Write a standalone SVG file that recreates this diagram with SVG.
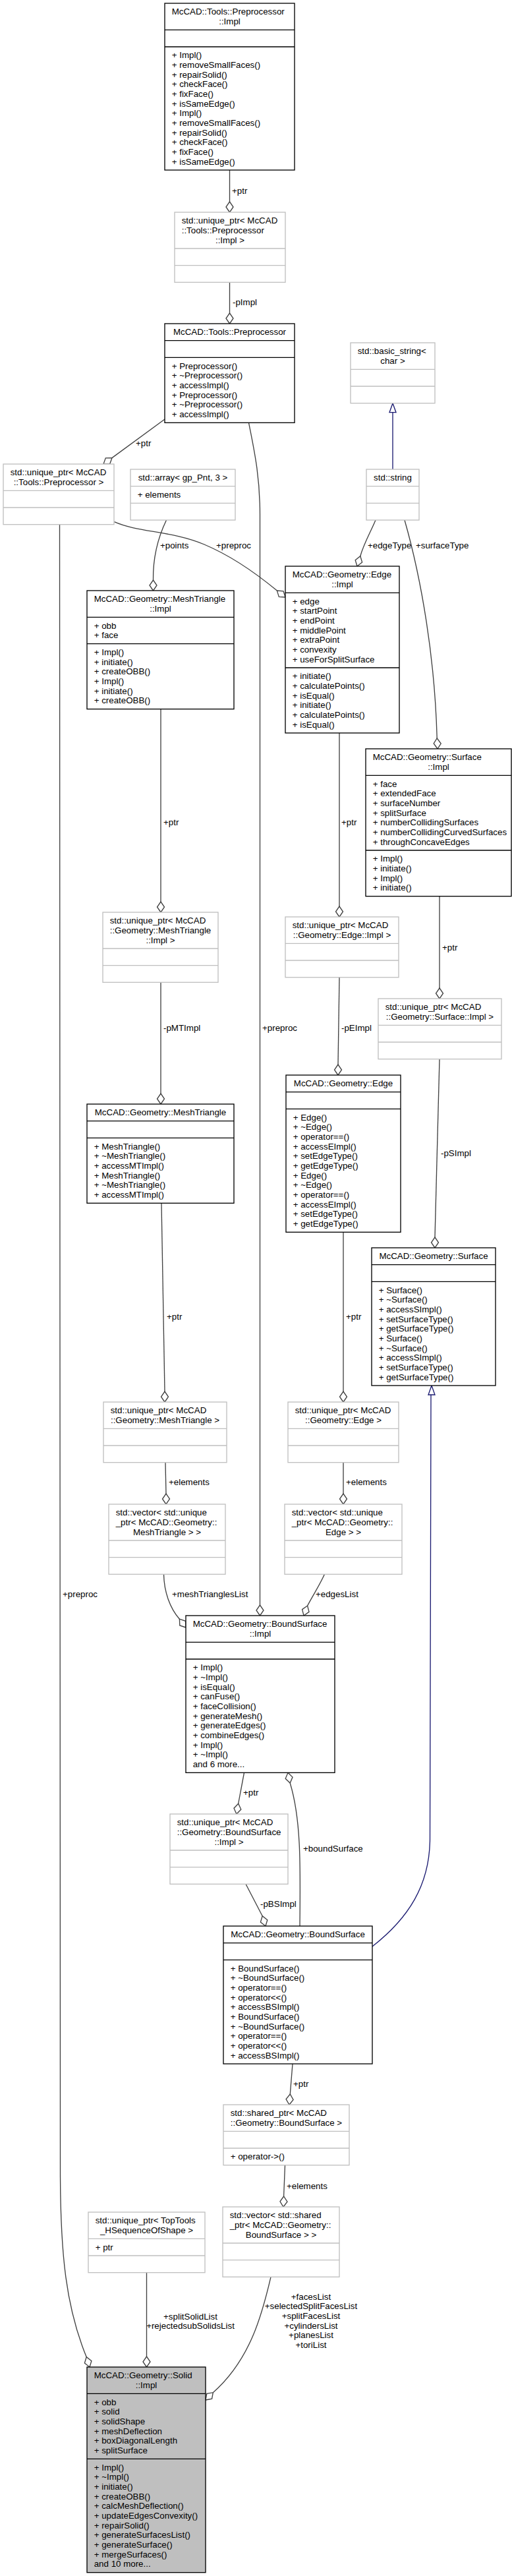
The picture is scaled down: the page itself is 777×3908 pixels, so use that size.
<svg xmlns="http://www.w3.org/2000/svg" width="777" height="3908" viewBox="0 0 777 3908">
<style>
text{font-family:"Liberation Sans",Arial,Helvetica,sans-serif;font-size:13.33px;fill:#000}
.m{text-anchor:middle}
.b{fill:#fff;stroke:#000;stroke-width:1.33}
.g{fill:#fff;stroke:#bfbfbf;stroke-width:1.33}
.main{fill:#bfbfbf;stroke:#000;stroke-width:1.33}
.sb{stroke:#000;stroke-width:1.33}
.sg{stroke:#bfbfbf;stroke-width:1.33}
.e{fill:none;stroke:#404040;stroke-width:1.33}
.d{fill:#fff;stroke:#404040;stroke-width:1.33}
.i{fill:none;stroke:#191970;stroke-width:1.33}
.it{fill:#fff;stroke:#191970;stroke-width:1.33}
</style>
<rect width="777" height="3908" fill="#fff"/>

<g id="connectors">
<!-- E1 -->
<path class="e" d="M348.5,258 L348.5,306"/>
<polygon class="d" points="348.5,322 343,314 348.5,306 354,314"/>
<text x="352" y="293.5">+ptr</text>
<!-- E2 -->
<path class="e" d="M348.5,428.3 L348.5,475"/>
<polygon class="d" points="348.5,491 343,483 348.5,475 354,483"/>
<text x="353" y="462.5">-pImpl</text>
<!-- E3 -->
<path class="e" d="M250,636 L170,694.6"/>
<polygon class="d" points="157,704 166.7,703.8 170,694.6 160.3,694.8"/>
<text x="206" y="676.5">+ptr</text>
<!-- E4 -->
<path class="e" d="M173.5,791.7 C210,808 260,805 310,826 C355,845 395,875 420.4,896.1"/>
<polygon class="d" points="433,906 423.3,905.4 420.4,896.1 430.1,896.8"/>
<text x="328" y="831.5">+preproc</text>
<!-- E5 -->
<path class="e" d="M252.5,789 C240,815 232,845 232.5,880"/>
<polygon class="d" points="232.5,896 227,888 232.5,880 238,888"/>
<text x="243" y="831.5">+points</text>
<!-- E6 -->
<path class="e" d="M570,789 C562,808 552,825 546.8,843.7"/>
<polygon class="d" points="542,859 549.6,853 546.8,843.7 539.2,849.7"/>
<text x="558" y="831.5">+edgeType</text>
<!-- E7 -->
<path class="e" d="M614,789 C640,880 660,1000 663.2,1120"/>
<polygon class="d" points="664,1136 658.2,1128 663.2,1120 669.2,1128"/>
<text x="631" y="831.5">+surfaceType</text>
<!-- E8 inheritance -->
<path class="i" d="M596,712 L596,625.7"/>
<polygon class="it" points="596,611.7 591,625.7 601,625.7"/>
<!-- E9 -->
<path class="e" d="M244,1075.7 L244,1368"/>
<polygon class="d" points="244,1384 238.5,1376 244,1368 249.5,1376"/>
<text x="248" y="1251.5">+ptr</text>
<!-- E10 -->
<path class="e" d="M515,1112 L515,1375"/>
<polygon class="d" points="515,1391 509.5,1383 515,1375 520.5,1383"/>
<text x="518" y="1251.5">+ptr</text>
<!-- E11 -->
<path class="e" d="M667,1359.7 L667,1499"/>
<polygon class="d" points="667,1515 661.5,1507 667,1499 672.5,1507"/>
<text x="671" y="1441.5">+ptr</text>
<!-- E12 -->
<path class="e" d="M244,1490.3 L244,1659"/>
<polygon class="d" points="244,1675 238.5,1667 244,1659 249.5,1667"/>
<text x="248" y="1563.5">-pMTImpl</text>
<!-- E13 -->
<path class="e" d="M515,1482.7 L513,1615"/>
<polygon class="d" points="513,1631 507.5,1623 513,1615 518.5,1623"/>
<text x="518" y="1563.5">-pEImpl</text>
<!-- E14 -->
<path class="e" d="M667,1606.7 L660,1877"/>
<polygon class="d" points="660,1893 654.5,1885 660,1877 665.5,1885"/>
<text x="669" y="1753.5">-pSImpl</text>
<!-- E15 -->
<path class="e" d="M245,1825.3 L250,2111"/>
<polygon class="d" points="250,2127 244.5,2119 250,2111 255.5,2119"/>
<text x="253" y="2001.5">+ptr</text>
<!-- E16 -->
<path class="e" d="M521,1869.3 L521,2111"/>
<polygon class="d" points="521,2127 515.5,2119 521,2111 526.5,2119"/>
<text x="525" y="2001.5">+ptr</text>
<!-- E17 inheritance -->
<path class="i" d="M654,2116 L652.5,2790 C652,2860 620,2910 565,2953"/>
<polygon class="it" points="655,2102 650,2116 660,2116"/>
<!-- E18 -->
<path class="e" d="M251,2218.7 L252,2266"/>
<polygon class="d" points="252,2282 246.5,2274 252,2266 257.5,2274"/>
<text x="256" y="2252.5">+elements</text>
<!-- E19 -->
<path class="e" d="M521,2218.7 L521,2266"/>
<polygon class="d" points="521,2282 515.5,2274 521,2266 526.5,2274"/>
<text x="525" y="2252.5">+elements</text>
<!-- E20 -->
<path class="e" d="M248.5,2388.3 C249,2415 258,2440 272.4,2456.2"/>
<polygon class="d" points="282,2469 272.8,2465.9 272.4,2456.2 281.6,2459.3"/>
<text x="261" y="2422.5">+meshTrianglesList</text>
<!-- E21 -->
<path class="e" d="M377.5,641.3 C385,680 394.5,720 394.5,780 L394.5,2435"/>
<polygon class="d" points="394.5,2451 389,2443 394.5,2435 400,2443"/>
<text x="398" y="1563.5">+preproc</text>
<!-- E22 -->
<path class="e" d="M492.5,2388.3 C485,2405 475,2420 466.6,2436"/>
<polygon class="d" points="461,2451 469,2445.4 466.6,2436 458.6,2441.6"/>
<text x="479" y="2422.5">+edgesList</text>
<!-- E23 -->
<path class="e" d="M370.5,2689.3 L361.7,2736.2"/>
<polygon class="d" points="359,2752 365.8,2745 361.7,2736.2 355,2743.2"/>
<text x="369" y="2723.5">+ptr</text>
<!-- E24 -->
<path class="e" d="M373,2858.3 L398.2,2906.7"/>
<polygon class="d" points="403,2922 395.4,2916 398.2,2906.7 405.8,2912.7"/>
<text x="395" y="2892.5">-pBSImpl</text>
<!-- E25 -->
<path class="e" d="M455,2922 C456,2830 457,2760 440.2,2705"/>
<polygon class="d" points="437,2689.3 444,2696.1 440.2,2705 433.2,2698.3"/>
<text x="460" y="2808.5">+boundSurface</text>
<!-- E26 -->
<path class="e" d="M444,3131 L440.3,3177"/>
<polygon class="d" points="439,3193 445.1,3185.4 440.3,3177 434.1,3184.6"/>
<text x="445" y="3165.5">+ptr</text>
<!-- E27 -->
<path class="e" d="M432.5,3284.7 L430.6,3332"/>
<polygon class="d" points="430,3348 436,3340.2 430.6,3332 425,3339.8"/>
<text x="435" y="3320.5">+elements</text>
<!-- E28 -->
<path class="e" d="M222.5,3447.7 L222.5,3575"/>
<polygon class="d" points="222.5,3591 217,3583 222.5,3575 228,3583"/>
<text class="m" x="289" y="3518.5">+splitSolidList</text>
<text class="m" x="289" y="3533.2">+rejectedsubSolidsList</text>
<!-- E29 -->
<path class="e" d="M411,3454.3 C398,3510 380,3580 323.3,3629.7"/>
<polygon class="d" points="312,3641 321.6,3639.2 323.3,3629.7 313.8,3631.4"/>
<text class="m" x="472" y="3488.5">+facesList</text>
<text class="m" x="472" y="3503.2">+selectedSplitFacesList</text>
<text class="m" x="472" y="3517.8">+splitFacesList</text>
<text class="m" x="472" y="3532.5">+cylindersList</text>
<text class="m" x="472" y="3547.2">+planesList</text>
<text class="m" x="472" y="3561.8">+toriList</text>
<!-- E30 -->
<path class="e" d="M90.5,795.7 L91.5,3300 C92,3420 100,3500 131.2,3575.7"/>
<polygon class="d" points="136,3591 138.9,3581.7 131.2,3575.7 128.4,3585"/>
<text x="95" y="2422.5">+preproc</text>
</g>

<g id="ppimpl">
<rect class="b" x="250" y="5" width="197" height="253"/>
<line class="sb" x1="250" y1="45.3" x2="447" y2="45.3"/>
<line class="sb" x1="250" y1="71" x2="447" y2="71"/>
<text x="260.7" y="22.3">McCAD::Tools::Preprocessor</text>
<text class="m" x="348.5" y="37">::Impl</text>
<text x="260.7" y="88.3">+ Impl()<tspan x="260.7" dy="14.67">+ removeSmallFaces()</tspan><tspan x="260.7" dy="14.67">+ repairSolid()</tspan><tspan x="260.7" dy="14.67">+ checkFace()</tspan><tspan x="260.7" dy="14.67">+ fixFace()</tspan><tspan x="260.7" dy="14.67">+ isSameEdge()</tspan><tspan x="260.7" dy="14.67">+ Impl()</tspan><tspan x="260.7" dy="14.67">+ removeSmallFaces()</tspan><tspan x="260.7" dy="14.67">+ repairSolid()</tspan><tspan x="260.7" dy="14.67">+ checkFace()</tspan><tspan x="260.7" dy="14.67">+ fixFace()</tspan><tspan x="260.7" dy="14.67">+ isSameEdge()</tspan></text>
</g>

<g id="up_ppimpl">
<rect class="g" x="265" y="322" width="168" height="106.3"/>
<line class="sg" x1="265" y1="377" x2="433" y2="377"/>
<line class="sg" x1="265" y1="402.7" x2="433" y2="402.7"/>
<text x="275.7" y="339.3">std::unique_ptr&lt; McCAD<tspan x="275.7" dy="14.67">::Tools::Preprocessor</tspan></text>
<text class="m" x="349" y="368.7">::Impl &gt;</text>
</g>

<g id="pp">
<rect class="b" x="250" y="491" width="197" height="150.3"/>
<line class="sb" x1="250" y1="516.7" x2="447" y2="516.7"/>
<line class="sb" x1="250" y1="542.3" x2="447" y2="542.3"/>
<text class="m" x="348.5" y="508.3">McCAD::Tools::Preprocessor</text>
<text x="260.7" y="559.6">+ Preprocessor()<tspan x="260.7" dy="14.67">+ ~Preprocessor()</tspan><tspan x="260.7" dy="14.67">+ accessImpl()</tspan><tspan x="260.7" dy="14.67">+ Preprocessor()</tspan><tspan x="260.7" dy="14.67">+ ~Preprocessor()</tspan><tspan x="260.7" dy="14.67">+ accessImpl()</tspan></text>
</g>

<g id="basic_string">
<rect class="g" x="532" y="520" width="128" height="91.7"/>
<line class="sg" x1="532" y1="560.3" x2="660" y2="560.3"/>
<line class="sg" x1="532" y1="586" x2="660" y2="586"/>
<text x="542.7" y="537.3">std::basic_string&lt;</text>
<text class="m" x="596" y="552">char &gt;</text>
</g>

<g id="up_pp">
<rect class="g" x="5" y="704" width="168" height="91.7"/>
<line class="sg" x1="5" y1="744.3" x2="173" y2="744.3"/>
<line class="sg" x1="5" y1="770" x2="173" y2="770"/>
<text x="15.7" y="721.3">std::unique_ptr&lt; McCAD</text>
<text class="m" x="89" y="736">::Tools::Preprocessor &gt;</text>
</g>

<g id="array">
<rect class="g" x="198" y="712" width="159" height="77"/>
<line class="sg" x1="198" y1="737.7" x2="357" y2="737.7"/>
<line class="sg" x1="198" y1="763.3" x2="357" y2="763.3"/>
<text class="m" x="277.5" y="729.3">std::array&lt; gp_Pnt, 3 &gt;</text>
<text x="208.7" y="755">+ elements</text>
</g>

<g id="string">
<rect class="g" x="556" y="712" width="80" height="77"/>
<line class="sg" x1="556" y1="737.7" x2="636" y2="737.7"/>
<line class="sg" x1="556" y1="763.3" x2="636" y2="763.3"/>
<text class="m" x="596" y="729.3">std::string</text>
</g>

<g id="mtimpl">
<rect class="b" x="132" y="896" width="223" height="179.7"/>
<line class="sb" x1="132" y1="936.3" x2="355" y2="936.3"/>
<line class="sb" x1="132" y1="976.7" x2="355" y2="976.7"/>
<text x="142.7" y="913.3">McCAD::Geometry::MeshTriangle</text>
<text class="m" x="243.5" y="928">::Impl</text>
<text x="142.7" y="953.6">+ obb<tspan x="142.7" dy="14.67">+ face</tspan></text>
<text x="142.7" y="994">+ Impl()<tspan x="142.7" dy="14.67">+ initiate()</tspan><tspan x="142.7" dy="14.67">+ createOBB()</tspan><tspan x="142.7" dy="14.67">+ Impl()</tspan><tspan x="142.7" dy="14.67">+ initiate()</tspan><tspan x="142.7" dy="14.67">+ createOBB()</tspan></text>
</g>

<g id="edgeimpl">
<rect class="b" x="433" y="859" width="173" height="253"/>
<line class="sb" x1="433" y1="899.3" x2="606" y2="899.3"/>
<line class="sb" x1="433" y1="1013" x2="606" y2="1013"/>
<text x="443.7" y="876.3">McCAD::Geometry::Edge</text>
<text class="m" x="519.5" y="891">::Impl</text>
<text x="443.7" y="916.6">+ edge<tspan x="443.7" dy="14.67">+ startPoint</tspan><tspan x="443.7" dy="14.67">+ endPoint</tspan><tspan x="443.7" dy="14.67">+ middlePoint</tspan><tspan x="443.7" dy="14.67">+ extraPoint</tspan><tspan x="443.7" dy="14.67">+ convexity</tspan><tspan x="443.7" dy="14.67">+ useForSplitSurface</tspan></text>
<text x="443.7" y="1030.3">+ initiate()<tspan x="443.7" dy="14.67">+ calculatePoints()</tspan><tspan x="443.7" dy="14.67">+ isEqual()</tspan><tspan x="443.7" dy="14.67">+ initiate()</tspan><tspan x="443.7" dy="14.67">+ calculatePoints()</tspan><tspan x="443.7" dy="14.67">+ isEqual()</tspan></text>
</g>

<g id="surfimpl">
<rect class="b" x="555" y="1136" width="221" height="223.7"/>
<line class="sb" x1="555" y1="1176.3" x2="776" y2="1176.3"/>
<line class="sb" x1="555" y1="1290" x2="776" y2="1290"/>
<text x="565.7" y="1153.3">McCAD::Geometry::Surface</text>
<text class="m" x="665.5" y="1168">::Impl</text>
<text x="565.7" y="1193.6">+ face<tspan x="565.7" dy="14.67">+ extendedFace</tspan><tspan x="565.7" dy="14.67">+ surfaceNumber</tspan><tspan x="565.7" dy="14.67">+ splitSurface</tspan><tspan x="565.7" dy="14.67">+ numberCollidingSurfaces</tspan><tspan x="565.7" dy="14.67">+ numberCollidingCurvedSurfaces</tspan><tspan x="565.7" dy="14.67">+ throughConcaveEdges</tspan></text>
<text x="565.7" y="1307.3">+ Impl()<tspan x="565.7" dy="14.67">+ initiate()</tspan><tspan x="565.7" dy="14.67">+ Impl()</tspan><tspan x="565.7" dy="14.67">+ initiate()</tspan></text>
</g>

<g id="up_mtimpl">
<rect class="g" x="156" y="1384" width="175" height="106.3"/>
<line class="sg" x1="156" y1="1439" x2="331" y2="1439"/>
<line class="sg" x1="156" y1="1464.7" x2="331" y2="1464.7"/>
<text x="166.7" y="1401.3">std::unique_ptr&lt; McCAD<tspan x="166.7" dy="14.67">::Geometry::MeshTriangle</tspan></text>
<text class="m" x="243.5" y="1430.7">::Impl &gt;</text>
</g>

<g id="up_edgeimpl">
<rect class="g" x="433" y="1391" width="172" height="91.7"/>
<line class="sg" x1="433" y1="1431.3" x2="605" y2="1431.3"/>
<line class="sg" x1="433" y1="1457" x2="605" y2="1457"/>
<text x="443.7" y="1408.3">std::unique_ptr&lt; McCAD</text>
<text class="m" x="519" y="1423">::Geometry::Edge::Impl &gt;</text>
</g>

<g id="up_surfimpl">
<rect class="g" x="574" y="1515" width="187" height="91.7"/>
<line class="sg" x1="574" y1="1555.3" x2="761" y2="1555.3"/>
<line class="sg" x1="574" y1="1581" x2="761" y2="1581"/>
<text x="584.7" y="1532.3">std::unique_ptr&lt; McCAD</text>
<text class="m" x="667.5" y="1547">::Geometry::Surface::Impl &gt;</text>
</g>

<g id="edge">
<rect class="b" x="434" y="1631" width="174" height="238.3"/>
<line class="sb" x1="434" y1="1656.7" x2="608" y2="1656.7"/>
<line class="sb" x1="434" y1="1682.3" x2="608" y2="1682.3"/>
<text class="m" x="521" y="1648.3">McCAD::Geometry::Edge</text>
<text x="444.7" y="1699.6">+ Edge()<tspan x="444.7" dy="14.67">+ ~Edge()</tspan><tspan x="444.7" dy="14.67">+ operator==()</tspan><tspan x="444.7" dy="14.67">+ accessEImpl()</tspan><tspan x="444.7" dy="14.67">+ setEdgeType()</tspan><tspan x="444.7" dy="14.67">+ getEdgeType()</tspan><tspan x="444.7" dy="14.67">+ Edge()</tspan><tspan x="444.7" dy="14.67">+ ~Edge()</tspan><tspan x="444.7" dy="14.67">+ operator==()</tspan><tspan x="444.7" dy="14.67">+ accessEImpl()</tspan><tspan x="444.7" dy="14.67">+ setEdgeType()</tspan><tspan x="444.7" dy="14.67">+ getEdgeType()</tspan></text>
</g>

<g id="mt">
<rect class="b" x="132" y="1675" width="223" height="150.3"/>
<line class="sb" x1="132" y1="1700.7" x2="355" y2="1700.7"/>
<line class="sb" x1="132" y1="1726.3" x2="355" y2="1726.3"/>
<text class="m" x="243.5" y="1692.3">McCAD::Geometry::MeshTriangle</text>
<text x="142.7" y="1743.6">+ MeshTriangle()<tspan x="142.7" dy="14.67">+ ~MeshTriangle()</tspan><tspan x="142.7" dy="14.67">+ accessMTImpl()</tspan><tspan x="142.7" dy="14.67">+ MeshTriangle()</tspan><tspan x="142.7" dy="14.67">+ ~MeshTriangle()</tspan><tspan x="142.7" dy="14.67">+ accessMTImpl()</tspan></text>
</g>

<g id="surf">
<rect class="b" x="564" y="1893" width="188" height="209"/>
<line class="sb" x1="564" y1="1918.7" x2="752" y2="1918.7"/>
<line class="sb" x1="564" y1="1944.3" x2="752" y2="1944.3"/>
<text class="m" x="658" y="1910.3">McCAD::Geometry::Surface</text>
<text x="574.7" y="1961.6">+ Surface()<tspan x="574.7" dy="14.67">+ ~Surface()</tspan><tspan x="574.7" dy="14.67">+ accessSImpl()</tspan><tspan x="574.7" dy="14.67">+ setSurfaceType()</tspan><tspan x="574.7" dy="14.67">+ getSurfaceType()</tspan><tspan x="574.7" dy="14.67">+ Surface()</tspan><tspan x="574.7" dy="14.67">+ ~Surface()</tspan><tspan x="574.7" dy="14.67">+ accessSImpl()</tspan><tspan x="574.7" dy="14.67">+ setSurfaceType()</tspan><tspan x="574.7" dy="14.67">+ getSurfaceType()</tspan></text>
</g>

<g id="up_mt">
<rect class="g" x="157" y="2127" width="187" height="91.7"/>
<line class="sg" x1="157" y1="2167.3" x2="344" y2="2167.3"/>
<line class="sg" x1="157" y1="2193" x2="344" y2="2193"/>
<text x="167.7" y="2144.3">std::unique_ptr&lt; McCAD</text>
<text class="m" x="250.5" y="2159">::Geometry::MeshTriangle &gt;</text>
</g>

<g id="up_edge">
<rect class="g" x="437" y="2127" width="168" height="91.7"/>
<line class="sg" x1="437" y1="2167.3" x2="605" y2="2167.3"/>
<line class="sg" x1="437" y1="2193" x2="605" y2="2193"/>
<text x="447.7" y="2144.3">std::unique_ptr&lt; McCAD</text>
<text class="m" x="521" y="2159">::Geometry::Edge &gt;</text>
</g>

<g id="vec_mt">
<rect class="g" x="165" y="2282" width="177" height="106.3"/>
<line class="sg" x1="165" y1="2337" x2="342" y2="2337"/>
<line class="sg" x1="165" y1="2362.7" x2="342" y2="2362.7"/>
<text x="175.7" y="2299.3">std::vector&lt; std::unique<tspan x="175.7" dy="14.67">_ptr&lt; McCAD::Geometry::</tspan></text>
<text class="m" x="253.5" y="2328.7">MeshTriangle &gt; &gt;</text>
</g>

<g id="vec_edge">
<rect class="g" x="432" y="2282" width="178" height="106.3"/>
<line class="sg" x1="432" y1="2337" x2="610" y2="2337"/>
<line class="sg" x1="432" y1="2362.7" x2="610" y2="2362.7"/>
<text x="442.7" y="2299.3">std::vector&lt; std::unique<tspan x="442.7" dy="14.67">_ptr&lt; McCAD::Geometry::</tspan></text>
<text class="m" x="521" y="2328.7">Edge &gt; &gt;</text>
</g>

<g id="bsimpl">
<rect class="b" x="282" y="2451" width="226" height="238.3"/>
<line class="sb" x1="282" y1="2491.3" x2="508" y2="2491.3"/>
<line class="sb" x1="282" y1="2517" x2="508" y2="2517"/>
<text x="292.7" y="2468.3">McCAD::Geometry::BoundSurface</text>
<text class="m" x="395" y="2483">::Impl</text>
<text x="292.7" y="2534.3">+ Impl()<tspan x="292.7" dy="14.67">+ ~Impl()</tspan><tspan x="292.7" dy="14.67">+ isEqual()</tspan><tspan x="292.7" dy="14.67">+ canFuse()</tspan><tspan x="292.7" dy="14.67">+ faceCollision()</tspan><tspan x="292.7" dy="14.67">+ generateMesh()</tspan><tspan x="292.7" dy="14.67">+ generateEdges()</tspan><tspan x="292.7" dy="14.67">+ combineEdges()</tspan><tspan x="292.7" dy="14.67">+ Impl()</tspan><tspan x="292.7" dy="14.67">+ ~Impl()</tspan><tspan x="292.7" dy="14.67">and 6 more...</tspan></text>
</g>

<g id="up_bsimpl">
<rect class="g" x="258" y="2752" width="179" height="106.3"/>
<line class="sg" x1="258" y1="2807" x2="437" y2="2807"/>
<line class="sg" x1="258" y1="2832.7" x2="437" y2="2832.7"/>
<text x="268.7" y="2769.3">std::unique_ptr&lt; McCAD<tspan x="268.7" dy="14.67">::Geometry::BoundSurface</tspan></text>
<text class="m" x="347.5" y="2798.7">::Impl &gt;</text>
</g>

<g id="bs">
<rect class="b" x="339" y="2922" width="226" height="209"/>
<line class="sb" x1="339" y1="2947.7" x2="565" y2="2947.7"/>
<line class="sb" x1="339" y1="2973.3" x2="565" y2="2973.3"/>
<text class="m" x="452" y="2939.3">McCAD::Geometry::BoundSurface</text>
<text x="349.7" y="2990.6">+ BoundSurface()<tspan x="349.7" dy="14.67">+ ~BoundSurface()</tspan><tspan x="349.7" dy="14.67">+ operator==()</tspan><tspan x="349.7" dy="14.67">+ operator&lt;&lt;()</tspan><tspan x="349.7" dy="14.67">+ accessBSImpl()</tspan><tspan x="349.7" dy="14.67">+ BoundSurface()</tspan><tspan x="349.7" dy="14.67">+ ~BoundSurface()</tspan><tspan x="349.7" dy="14.67">+ operator==()</tspan><tspan x="349.7" dy="14.67">+ operator&lt;&lt;()</tspan><tspan x="349.7" dy="14.67">+ accessBSImpl()</tspan></text>
</g>

<g id="sp_bs">
<rect class="g" x="339" y="3193" width="191" height="91.7"/>
<line class="sg" x1="339" y1="3233.3" x2="530" y2="3233.3"/>
<line class="sg" x1="339" y1="3259" x2="530" y2="3259"/>
<text x="349.7" y="3210.3">std::shared_ptr&lt; McCAD</text>
<text class="m" x="434.5" y="3225">::Geometry::BoundSurface &gt;</text>
<text x="349.7" y="3276.3">+ operator-&gt;()</text>
</g>

<g id="vec_bs">
<rect class="g" x="338" y="3348" width="177" height="106.3"/>
<line class="sg" x1="338" y1="3403" x2="515" y2="3403"/>
<line class="sg" x1="338" y1="3428.7" x2="515" y2="3428.7"/>
<text x="348.7" y="3365.3">std::vector&lt; std::shared<tspan x="348.7" dy="14.67">_ptr&lt; McCAD::Geometry::</tspan></text>
<text class="m" x="426.5" y="3394.7">BoundSurface &gt; &gt;</text>
</g>

<g id="up_tt">
<rect class="g" x="134" y="3356" width="177" height="91.7"/>
<line class="sg" x1="134" y1="3396.3" x2="311" y2="3396.3"/>
<line class="sg" x1="134" y1="3422" x2="311" y2="3422"/>
<text x="144.7" y="3373.3">std::unique_ptr&lt; TopTools</text>
<text class="m" x="222.5" y="3388">_HSequenceOfShape &gt;</text>
<text x="144.7" y="3413.6">+ ptr</text>
</g>

<g id="solid">
<rect class="main" x="132" y="3591" width="180" height="311.7"/>
<line class="sb" x1="132" y1="3631.3" x2="312" y2="3631.3"/>
<line class="sb" x1="132" y1="3730.3" x2="312" y2="3730.3"/>
<text x="142.7" y="3608.3">McCAD::Geometry::Solid</text>
<text class="m" x="222" y="3623">::Impl</text>
<text x="142.7" y="3648.6">+ obb<tspan x="142.7" dy="14.67">+ solid</tspan><tspan x="142.7" dy="14.67">+ solidShape</tspan><tspan x="142.7" dy="14.67">+ meshDeflection</tspan><tspan x="142.7" dy="14.67">+ boxDiagonalLength</tspan><tspan x="142.7" dy="14.67">+ splitSurface</tspan></text>
<text x="142.7" y="3747.6">+ Impl()<tspan x="142.7" dy="14.67">+ ~Impl()</tspan><tspan x="142.7" dy="14.67">+ initiate()</tspan><tspan x="142.7" dy="14.67">+ createOBB()</tspan><tspan x="142.7" dy="14.67">+ calcMeshDeflection()</tspan><tspan x="142.7" dy="14.67">+ updateEdgesConvexity()</tspan><tspan x="142.7" dy="14.67">+ repairSolid()</tspan><tspan x="142.7" dy="14.67">+ generateSurfacesList()</tspan><tspan x="142.7" dy="14.67">+ generateSurface()</tspan><tspan x="142.7" dy="14.67">+ mergeSurfaces()</tspan><tspan x="142.7" dy="14.67">and 10 more...</tspan></text>
</g>
</svg>
